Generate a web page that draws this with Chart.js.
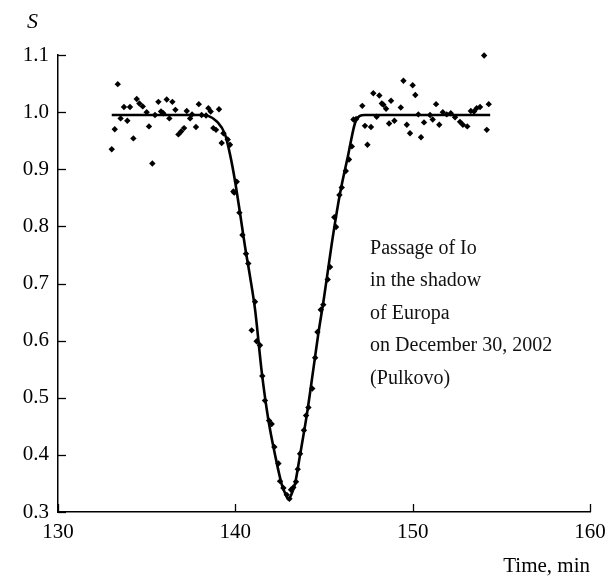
<!DOCTYPE html>
<html>
<head>
<meta charset="utf-8">
<script src="https://cdn.jsdelivr.net/npm/chart.js@4.4.1/dist/chart.umd.min.js"></script>
<style>
  html, body { margin: 0; padding: 0; background: #fff; }
  #wrap { width: 616px; height: 579px; position: relative; }
</style>
</head>
<body>
<div id="wrap"><canvas id="c" width="616" height="579"></canvas></div>
<script>
// Observed brightness S vs time (min)
const obsTime = [
  133.03,133.20,133.37,133.53,133.72,133.91,134.06,134.25,134.44,134.59,134.78,135.00,135.13,135.32,135.47,135.66,
  135.81,135.94,136.13,136.28,136.45,136.62,136.79,136.94,137.11,137.26,137.45,137.56,137.78,137.94,138.10,138.35,
  138.48,138.61,138.76,138.91,139.08,139.23,139.33,139.57,139.70,139.89,139.94,140.08,140.23,140.40,140.60,140.73,
  140.92,141.11,141.20,141.39,141.52,141.67,141.90,142.05,142.20,142.43,142.52,142.71,142.90,143.05,143.14,143.27,
  143.42,143.52,143.65,143.87,143.99,144.12,144.34,144.50,144.63,144.82,144.96,145.21,145.34,145.58,145.68,145.87,
  146.00,146.23,146.41,146.57,146.66,146.81,147.16,147.31,147.45,147.65,147.78,147.97,148.12,148.26,148.35,148.50,
  148.67,148.78,148.97,149.33,149.48,149.67,149.85,150.00,150.15,150.32,150.47,150.64,150.98,151.13,151.32,151.50,
  151.70,151.92,152.15,152.39,152.67,152.83,153.08,153.28,153.46,153.61,153.80,154.03,154.18,154.29
];
const obsS = [
  0.935,0.970,1.049,0.989,1.009,0.985,1.009,0.954,1.023,1.015,1.010,1.000,0.975,0.910,0.995,1.018,
  1.001,0.998,1.022,0.989,1.018,1.004,0.961,0.966,0.972,1.002,0.989,0.996,0.974,1.014,0.995,0.994,
  1.007,1.001,0.972,0.969,1.005,0.946,0.963,0.952,0.943,0.861,0.859,0.878,0.824,0.785,0.752,0.735,
  0.618,0.668,0.599,0.592,0.538,0.495,0.460,0.454,0.414,0.385,0.354,0.342,0.330,0.323,0.339,0.343,
  0.353,0.375,0.402,0.443,0.469,0.483,0.516,0.570,0.615,0.654,0.663,0.707,0.729,0.816,0.799,0.855,
  0.868,0.897,0.917,0.940,0.987,0.988,1.011,0.976,0.943,0.974,1.033,0.992,1.029,1.015,1.013,1.006,
  0.980,1.020,0.985,1.008,1.055,0.978,0.963,1.047,1.030,0.996,0.956,0.982,0.995,0.987,1.014,0.978,
  1.000,0.996,0.998,0.991,0.983,0.978,0.975,1.002,1.001,1.007,1.009,1.099,0.969,1.014
];
// Fitted model curve
const fitTime = [133.03,138.0,138.5,138.95,139.42,139.7,139.98,140.27,140.55,140.83,141.11,141.49,141.86,142.24,142.62,142.85,143.0,
  143.15,143.37,143.65,144.03,144.4,144.68,145.0,145.44,145.9,146.37,146.75,147.0,147.3,154.37];
const fitS = [0.995,0.995,0.993,0.984,0.961,0.926,0.880,0.822,0.764,0.712,0.655,0.545,0.462,0.400,0.348,0.330,0.322,
  0.330,0.350,0.400,0.470,0.550,0.612,0.675,0.770,0.857,0.926,0.981,0.993,0.995,0.995];
const xTicks = [130, 140, 150, 160];
const yTicks = [0.3, 0.4, 0.5, 0.6, 0.7, 0.8, 0.9, 1.0, 1.1];
const annotation = ["Passage of Io", "in the shadow", "of Europa", "on December 30, 2002", "(Pulkovo)"];

const FONT = "'Liberation Serif', 'DejaVu Serif', serif";

const extras = {
  id: 'extras',
  afterDraw(chart) {
    const ctx = chart.ctx;
    const xs = chart.scales.x, ys = chart.scales.y;
    const area = chart.chartArea;
    ctx.save();
    ctx.strokeStyle = '#000';
    ctx.lineWidth = 1.3;
    // inward ticks
    ys.ticks.forEach(t => {
      const py = Math.round(ys.getPixelForValue(t.value)) + 0.5;
      ctx.beginPath(); ctx.moveTo(area.left, py); ctx.lineTo(area.left + 8, py); ctx.stroke();
    });
    xs.ticks.forEach(t => {
      const px = Math.round(xs.getPixelForValue(t.value)) + 0.5;
      ctx.beginPath(); ctx.moveTo(px, area.bottom); ctx.lineTo(px, area.bottom - 8); ctx.stroke();
    });
    // y axis title S
    ctx.fillStyle = '#000';
    ctx.font = "italic 22px " + FONT;
    ctx.textAlign = 'left';
    ctx.textBaseline = 'alphabetic';
    ctx.fillText('S', 27, 28);
    // annotation
    ctx.font = "20px " + FONT;
    ctx.fillStyle = '#111';
    const ax = xs.getPixelForValue(147.6);
    let ay = ys.getPixelForValue(0.752);
    annotation.forEach((line, i) => {
      ctx.fillText(line, ax, ay + i * 32.5);
    });
    ctx.restore();
  }
};

new Chart(document.getElementById('c'), {
  type: 'scatter',
  data: {
    datasets: [
      {
        label: 'fit',
        data: fitTime.map((t, i) => ({ x: t, y: fitS[i] })),
        showLine: true,
        borderColor: '#000',
        borderWidth: 2.6,
        pointRadius: 0,
        cubicInterpolationMode: 'monotone',
        clip: false,
        order: 2
      },
      {
        label: 'obs',
        data: obsTime.map((t, i) => ({ x: t, y: obsS[i] })),
        showLine: false,
        pointStyle: 'rectRot',
        pointRadius: 3.2,
        backgroundColor: '#000',
        borderColor: '#000',
        borderWidth: 0,
        clip: false,
        order: 1
      }
    ]
  },
  options: {
    responsive: false,
    animation: false,
    events: [],
    layout: { padding: { top: 55, right: 26, left: 0, bottom: 0 } },
    plugins: { legend: { display: false }, tooltip: { enabled: false } },
    scales: {
      x: {
        type: 'linear',
        min: 130, max: 160,
        afterBuildTicks: s => { s.ticks = xTicks.map(v => ({ value: v })); },
        afterFit: s => { s.height = 67; },
        grid: { display: true, drawOnChartArea: false, drawTicks: false },
        border: { display: true, color: '#000', width: 1.5 },
        ticks: { color: '#000', font: { family: FONT, size: 21 }, padding: 8, maxRotation: 0,
                 callback: v => String(v) },
        title: { display: true, text: 'Time, min', align: 'end', color: '#000',
                 font: { family: FONT, size: 21 }, padding: { top: 0, bottom: 0 } }
      },
      y: {
        type: 'linear',
        min: 0.3, max: 1.1,
        afterBuildTicks: s => { s.ticks = yTicks.map(v => ({ value: v })); },
        afterFit: s => { s.width = 58; },
        grid: { display: true, drawOnChartArea: false, drawTicks: false },
        border: { display: true, color: '#000', width: 1.5 },
        ticks: { color: '#000', font: { family: FONT, size: 21 }, padding: 9,
                 callback: v => Number(v).toFixed(1) }
      }
    }
  },
  plugins: [extras]
});
</script>
</body>
</html>
